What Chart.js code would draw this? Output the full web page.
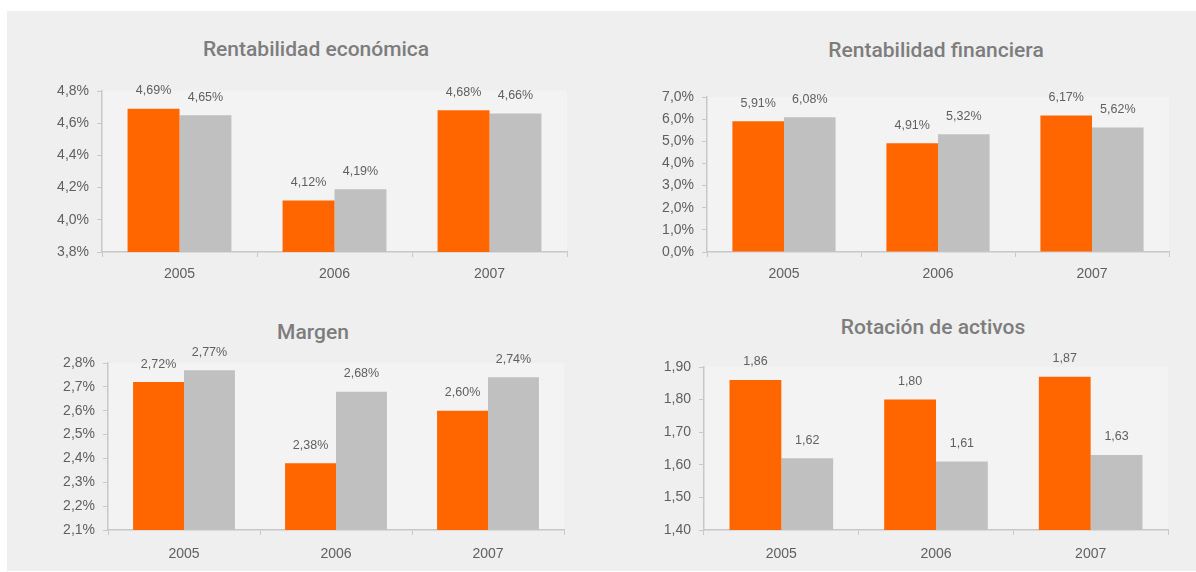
<!DOCTYPE html>
<html>
<head>
<meta charset="utf-8">
<script src="https://cdn.jsdelivr.net/npm/chart.js@4"></script>
<style>
  html, body { margin: 0; padding: 0; background: #fff; overflow: hidden; }
  body { width: 1196px; height: 572px; position: relative; }
  #panel { position: absolute; left: 7px; top: 11px; width: 1189px; height: 560px; background: #efefef; }
  .title {
    position: absolute; transform: translateX(-50%); white-space: nowrap;
    font-family: Roboto, 'Liberation Sans', sans-serif; font-weight: 500;
    font-size: 21px; line-height: 21px; color: #7d7d7d;
  }
  canvas { position: absolute; }
</style>
</head>
<body>
<div id="panel"></div>

<div class="title" style="left:316px; top:39px">Rentabilidad económica</div>
<div class="title" style="left:936px; top:40px">Rentabilidad financiera</div>
<div class="title" style="left:313px; top:322px">Margen</div>
<div class="title" style="left:933px; top:317px">Rotación de activos</div>

<canvas id="econ" width="537" height="231" style="left:40px; top:61px"></canvas>
<canvas id="fin" width="529" height="225" style="left:650px; top:67px"></canvas>
<canvas id="margen" width="524" height="237" style="left:50px; top:333px"></canvas>
<canvas id="rot" width="528" height="233" style="left:650px; top:337px"></canvas>

<script>
const years = ['2005', '2006', '2007'];

const econOrange = [4.69, 4.12, 4.68];
const econGray = [4.65, 4.19, 4.66];

const finOrange = [5.91, 4.91, 6.17];
const finGray = [6.08, 5.32, 5.62];

const margenOrange = [2.72, 2.38, 2.60];
const margenGray = [2.77, 2.68, 2.74];

const rotOrange = [1.86, 1.80, 1.87];
const rotGray = [1.62, 1.61, 1.63];

const ORANGE = '#ff6600';
const GRAY = '#c0c0c0';
const TEXT = '#606060';
const AXIS = '#c8c8c8';

Chart.defaults.font.family = "'Liberation Sans', Arial, sans-serif";
Chart.defaults.color = TEXT;

const comma = (v, d) => v.toFixed(d).replace('.', ',');
const pct1 = v => comma(v, 1) + '%';
const pct2 = v => comma(v, 2) + '%';
const dec2 = v => comma(v, 2);

// lighter fill behind the plot area
const plotBg = {
  id: 'plotBg',
  beforeDraw(chart) {
    const { ctx, chartArea: a } = chart;
    ctx.save();
    ctx.fillStyle = '#f3f3f3';
    ctx.fillRect(a.left, a.top, a.right - a.left, a.bottom - a.top);
    ctx.restore();
  },
};

// value above every bar
const valueLabels = fmt => ({
  id: 'valueLabels',
  afterDatasetsDraw(chart) {
    const { ctx } = chart;
    ctx.save();
    ctx.font = "12.5px 'Liberation Sans', Arial, sans-serif";
    ctx.fillStyle = TEXT;
    ctx.textAlign = 'center';
    ctx.textBaseline = 'middle';
    chart.data.datasets.forEach((ds, i) => {
      chart.getDatasetMeta(i).data.forEach((bar, j) => {
        ctx.fillText(fmt(ds.data[j]), bar.x, bar.y - 18);
      });
    });
    ctx.restore();
  },
});

const makeChart = (id, orange, gray, yMin, yMax, step, tickFmt, valueFmt, yWidth, xPad) =>
  new Chart(document.getElementById(id), {
    type: 'bar',
    data: {
      labels: years,
      datasets: [
        { data: orange, backgroundColor: ORANGE },
        { data: gray, backgroundColor: GRAY },
      ],
    },
    options: {
      responsive: false,
      animation: false,
      events: [],
      categoryPercentage: 0.67,
      barPercentage: 1.0,
      layout: { padding: { top: 30, right: 10, bottom: 0, left: 0 } },
      plugins: { legend: { display: false }, tooltip: { enabled: false } },
      scales: {
        x: {
          grid: { drawOnChartArea: false, tickLength: 5, color: AXIS },
          border: { color: AXIS, width: 1.5 },
          ticks: { padding: xPad, font: { size: 14 }, color: TEXT },
          afterFit: s => { s.height = 40; },
        },
        y: {
          min: yMin,
          max: yMax,
          grid: { drawOnChartArea: false, tickLength: 5, color: AXIS },
          border: { color: AXIS, width: 1.5 },
          ticks: { stepSize: step, padding: 8, font: { size: 14 }, color: TEXT, callback: v => tickFmt(v) },
          afterFit: s => { s.width = yWidth; },
        },
      },
    },
    plugins: [plotBg, valueLabels(valueFmt)],
  });

makeChart('econ', econOrange, econGray, 3.8, 4.8, 0.2, pct1, pct2, 62, 9);
makeChart('fin', finOrange, finGray, 0, 7, 1, pct1, pct2, 57, 9);
makeChart('margen', margenOrange, margenGray, 2.1, 2.8, 0.1, pct1, pct2, 58, 11);
makeChart('rot', rotOrange, rotGray, 1.4, 1.9, 0.1, dec2, dec2, 54, 11);
</script>
</body>
</html>
